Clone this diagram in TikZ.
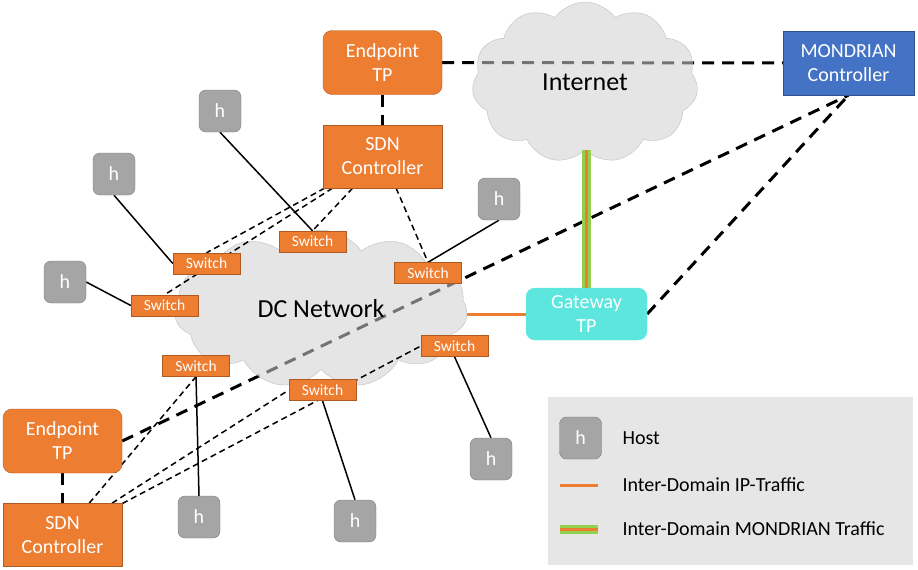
\documentclass[tikz,border=0pt]{standalone}
\usepackage{fontspec}
\setmainfont{Carlito}
\usetikzlibrary{positioning, shapes.symbols}
\definecolor{tporange}{RGB}{237,125,49}
\definecolor{tpborder}{RGB}{174,90,33}
\definecolor{mondblue}{RGB}{68,114,196}
\definecolor{mondborder}{RGB}{47,82,143}
\definecolor{gwcyan}{RGB}{92,230,222}
\definecolor{hostgray}{RGB}{165,165,165}
\definecolor{hostborder}{RGB}{125,125,125}
\definecolor{cloudgray}{RGB}{208,208,208}
\definecolor{cloudborder}{RGB}{191,191,191}
\definecolor{legendgray}{RGB}{230,230,230}
\definecolor{mondgreen}{RGB}{146,208,80}
\pgfdeclarelayer{back}
\pgfdeclarelayer{links}
\pgfsetlayers{back,links,main}
\tikzstyle{end-point}=[
rectangle,
rounded corners=9pt,
draw=tpborder,
fill=tporange,
text=white,
align=center,
minimum width=119pt,
minimum height=64pt,
font={\fontsize{20}{24}\selectfont},
]
\tikzstyle{sdn-box}=[
rectangle,
draw=tpborder,
fill=tporange,
text=white,
align=center,
minimum width=119pt,
minimum height=63pt,
font={\fontsize{20}{24}\selectfont},
]
\tikzstyle{switch-box}=[
rectangle,
draw=tpborder,
fill=tporange,
text=white,
minimum width=67pt,
minimum height=21pt,
inner sep=0pt,
font={\fontsize{15.5}{18}\selectfont},
]
\tikzstyle{host-box}=[
rectangle,
rounded corners=7pt,
draw=hostborder,
fill=hostgray,
text=white,
minimum size=42pt,
inner sep=0pt,
font={\fontsize{20}{24}\selectfont},
]
\tikzstyle{net-cloud}=[
cloud,
cloud puffs=11,
cloud puff arc=110,
cloud ignores aspect,
draw=cloudborder,
fill=cloudgray,
fill opacity=0.56,
text opacity=1,
font={\fontsize{26}{30}\selectfont},
]
\tikzstyle{ctrl-link}=[line width=3pt, dash pattern=on 12pt off 8pt]
\tikzstyle{sdn-link}=[line width=1.5pt, dash pattern=on 6pt off 4pt]
\tikzstyle{host-link}=[line width=1.5pt]
\tikzstyle{ip-link}=[line width=3pt, draw=tporange]
\tikzstyle{mond-link}=[line width=9pt, draw=mondgreen, postaction={draw=tporange, line width=3pt}]
\begin{document}
\begin{tikzpicture}
        [x=1pt, y=-1pt]
        \useasboundingbox (0,0) rectangle (918,570);
        \node[end-point] (e1) at (382.5,62.5) {Endpoint\\TP};
        \node[sdn-box, below=30pt of e1] (c1) {SDN\\Controller};
        \node[sdn-box, fill=mondblue, draw=mondborder, minimum width=131pt, minimum height=64pt] (m) at (848.5,63) {MONDRIAN\\Controller};
        \node[end-point, fill=gwcyan, draw=gwcyan, minimum width=121pt, minimum height=52pt, inner sep=2pt] (g) at (586.5,314) {Gateway\\TP};
        \node[end-point] (e2) at (62.5,441) {Endpoint\\TP};
        \node[sdn-box, below=30pt of e2] (c2) {SDN\\Controller};

        \begin{pgfonlayer}{links}
          \node[net-cloud, minimum width=226pt, minimum height=161pt] (i) at (585,82.5) {Internet};
          \node[net-cloud, minimum width=293pt, minimum height=158pt] (n) at (321,309) {DC Network};
        \end{pgfonlayer}

        \begin{scope}[every node/.style=switch-box]
          \node (s1) at (312.5,241.5) {Switch};
          \node (s2) at (206.5,263.5) {Switch};
          \node (s3) at (164.5,305.5) {Switch};
          \node (s4) at (428,273) {Switch};
          \node (s5) at (454.5,346) {Switch};
          \node (s6) at (196,366) {Switch};
          \node (s7) at (322.5,390) {Switch};
        \end{scope}

        \begin{scope}[every node/.style=host-box]
          \node (h1) at (220,111) {h};
          \node (h2) at (114,174) {h};
          \node (h3) at (65,282) {h};
          \node (h4) at (499,199) {h};
          \node (h5) at (491,459) {h};
          \node (h6) at (199,517) {h};
          \node (h7) at (355,521) {h};
        \end{scope}

        \node[fill=legendgray, minimum width=365pt, minimum height=168pt] (l) at (730.5,481) {};
        \node[host-box] (lh) at (580.5,438) {h};
        \node[anchor=west, font={\fontsize{20}{24}\selectfont}] (lt1) at (619,438) {Host};
        \coordinate (la) at (560,485);
        \coordinate (lb) at (598,485);
        \node[anchor=west, font={\fontsize{20}{24}\selectfont}] (lt2) at (619,485) {Inter-Domain IP-Traffic};
        \coordinate (lc) at (560,529);
        \coordinate (ld) at (598,529);
        \node[anchor=west, font={\fontsize{20}{24}\selectfont}] (lt3) at (619,529) {Inter-Domain MONDRIAN Traffic};
        \draw[ip-link] (la) -- (lb);
        \draw[mond-link] (lc) -- (ld);

        \begin{pgfonlayer}{back}
          \draw[ctrl-link] (e1) -- (m);
          \draw[ctrl-link] (e1) -- (c1);
          \draw[ctrl-link] (e2) -- (c2);
          \draw[ctrl-link] (e2.east) -- (m.south);
          \draw[ctrl-link] (g.east) -- (m.south);
        \end{pgfonlayer}

        \begin{pgfonlayer}{links}
          \draw[sdn-link] (c1) -- (s1.north);
          \draw[sdn-link] (c1) -- (s2.north);
          \draw[sdn-link] (c1) -- (s3.north);
          \draw[sdn-link] (c1) -- (s4.north);
          \draw[sdn-link] (c2) -- (s6.south);
          \draw[sdn-link] (c2) -- (s7.west);
          \draw[sdn-link] (c2) -- (s5.west);
          \draw[host-link] (h1.south) -- (s1.north);
          \draw[host-link] (h2.south) -- (s2.west);
          \draw[host-link] (h3.east) -- (s3.west);
          \draw[host-link] (h4.south) -- (s4.north);
          \draw[host-link] (h5.north) -- (s5.south);
          \draw[host-link] (h6.north) -- (s6.south);
          \draw[host-link] (h7.north) -- (s7.south);
          \draw[ip-link] (g.west) -- (g.west -| n.east);
          \draw[mond-link] (g.north) -- (g.north |- i.south);
        \end{pgfonlayer}
      \end{tikzpicture}
\end{document}
